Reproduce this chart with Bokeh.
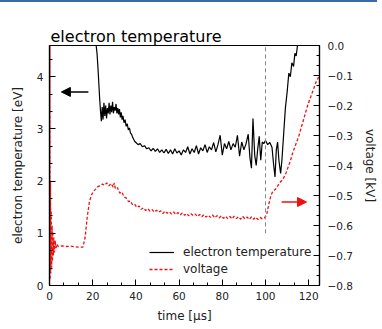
from bokeh.plotting import figure
from bokeh.models import (Range1d, LinearAxis, FixedTicker, CustomJSTickFormatter,
                          Arrow, NormalHead, Legend, LegendItem, Div)
from bokeh.layouts import column
from bokeh.embed import file_html
from bokeh.resources import INLINE

# electron temperature [eV] vs time [us]
te_time = [21.6, 22.0, 22.4, 22.8, 23.2, 23.6, 24.0, 24.4, 24.8, 25.2, 25.6, 26.0, 26.4, 26.8,
           27.2, 27.6, 28.0, 28.4, 28.8, 29.2, 29.6, 30.0, 30.4, 30.8, 31.2, 31.6, 32.0, 32.4,
           32.8, 33.2, 33.6, 34.0, 34.5, 35.0, 35.5, 36.0, 36.5, 37.0, 37.5, 38.0, 38.5, 39.0,
           39.5, 40.0, 41, 42, 43, 44, 45, 46, 47, 48, 49, 50, 51, 52, 53, 54, 55, 56, 57, 58,
           59, 60, 61, 62, 63, 64, 65, 66, 67, 68, 69, 70, 71, 72, 73, 74, 75, 76, 77, 78, 79,
           80, 81, 82, 83, 84, 85, 86, 87, 88, 89, 90, 91, 92, 92.8, 93.5, 94.2, 95.0, 95.7,
           96.4, 97.1, 97.8, 98.5, 99.2, 100, 101, 102, 103, 103.8, 104.4, 105.0, 105.6, 106.2,
           107.0, 107.6, 108.4, 109.2, 110.0, 110.8, 111.5, 112.2, 113.0, 113.6, 114.2, 114.8]
te_value = [4.6, 4.45, 4.2, 3.9, 3.6, 3.35, 3.15, 3.42, 3.18, 3.5, 3.25, 3.45, 3.2, 3.4,
            3.3, 3.5, 3.28, 3.45, 3.32, 3.52, 3.3, 3.42, 3.35, 3.48, 3.3, 3.4, 3.28, 3.38,
            3.22, 3.32, 3.18, 3.25, 3.12, 3.18, 3.05, 3.1, 2.98, 3.02, 2.92, 2.9, 2.84, 2.8,
            2.76, 2.74, 2.7, 2.72, 2.66, 2.68, 2.62, 2.64, 2.58, 2.63, 2.57, 2.62, 2.55, 2.6,
            2.54, 2.61, 2.53, 2.6, 2.52, 2.62, 2.54, 2.58, 2.5, 2.6, 2.55, 2.66, 2.52, 2.62,
            2.55, 2.68, 2.52, 2.64, 2.58, 2.7, 2.55, 2.66, 2.6, 2.74, 2.56, 2.7, 2.88, 2.5,
            2.72, 2.62, 2.76, 2.6, 2.72, 2.65, 2.88, 2.48, 2.75, 2.6, 2.72, 2.9, 2.45, 2.25,
            3.2, 2.5, 2.3, 2.62, 2.86, 2.4, 2.75, 2.72, 2.78, 2.7, 2.74, 2.65, 2.3, 2.08, 2.6,
            2.75, 2.4, 2.15, 2.4, 2.9, 3.4, 3.7, 4.07, 4.0, 4.27, 4.2, 4.45, 4.4, 4.6]

# voltage [kV] vs time [us]
v_time = [0.0, 0.15, 0.3, 0.45, 0.6, 0.8, 1.0, 1.2, 1.4, 1.6, 1.8, 2.0, 2.3, 2.6, 3.0, 3.5,
          4.0, 6, 8, 10, 12, 14, 15.5, 16.5, 17.5, 18.5, 19.5, 20.5, 21.5, 22.5, 23.5, 24.5,
          25.5, 26.5, 27.5, 28.5, 29.5, 30, 30.5, 31.5, 32.5, 33.5, 34.5, 35.5, 36.5, 37.5,
          38.5, 39.5, 40.5, 41.5, 42.5, 43.5, 44.5, 45.5, 46.5, 47.5, 48.5, 49.5, 50.5, 51.5,
          52.5, 53.5, 54.5, 55.5, 56.5, 57.5, 58.5, 59.5, 60.5, 61.5, 62.5, 63.5, 64.5, 65.5,
          66.5, 67.5, 68.5, 69.5, 70.5, 71.5, 72.5, 73.5, 74.5, 75.5, 76.5, 77.5, 78.5, 79.5,
          80.5, 81.5, 82.5, 83.5, 84.5, 85.5, 86.5, 87.5, 88.5, 89.5, 90.5, 91.5, 92.5, 93.5,
          94.5, 95.5, 96.5, 97.5, 98.5, 99.5, 100.5, 101.5, 102.5,
          103.5, 104.5, 105.5, 106.5, 107.5, 108.5, 109.5, 110.5, 111.5, 112.5, 113.5, 114.5,
          115.5, 116.5, 117.5, 118.5, 119.5, 120.5, 121.5, 122.5, 123.5, 125]
v_value = [-0.80, 0.0, -0.78, -0.45, -0.76, -0.55, -0.74, -0.60, -0.72, -0.62, -0.70, -0.64,
           -0.69, -0.65, -0.675, -0.662, -0.67, -0.668, -0.67, -0.669, -0.671, -0.672, -0.672,
           -0.64, -0.57, -0.52, -0.497, -0.485, -0.478, -0.47, -0.468, -0.462, -0.466, -0.458,
           -0.468, -0.46, -0.472, -0.458, -0.478, -0.474, -0.492, -0.488, -0.505, -0.508, -0.52,
           -0.518, -0.532, -0.53,
           -0.540, -0.535, -0.546, -0.541, -0.550, -0.544, -0.552, -0.547, -0.555, -0.549,
           -0.556, -0.551, -0.560, -0.552, -0.559, -0.554, -0.562, -0.555, -0.563, -0.557,
           -0.565, -0.558, -0.566, -0.560, -0.568, -0.561, -0.567, -0.562, -0.570, -0.563,
           -0.571, -0.564, -0.572, -0.566, -0.573, -0.565, -0.574, -0.567, -0.575, -0.568,
           -0.576, -0.569, -0.577, -0.570, -0.578, -0.569, -0.577, -0.571, -0.579, -0.570,
           -0.578, -0.572, -0.580, -0.571, -0.579, -0.572, -0.580, -0.573, -0.578, -0.575,
           -0.565, -0.53, -0.50, -0.485, -0.48, -0.47, -0.458, -0.45, -0.44, -0.425,
           -0.405, -0.385, -0.36, -0.34, -0.32, -0.30, -0.275, -0.25, -0.225, -0.20, -0.18,
           -0.16, -0.14, -0.12, -0.10]

x_ticks = [0, 20, 40, 60, 80, 100, 120]
te_ticks = [0, 1, 2, 3, 4]
v_ticks = [-0.8, -0.7, -0.6, -0.5, -0.4, -0.3, -0.2, -0.1, 0.0]

FONT = "DejaVu Sans"

p = figure(width=382, height=327, output_backend="svg", toolbar_location=None,
           x_range=Range1d(0, 125), y_range=Range1d(0, 4.6),
           min_border_left=49, min_border_right=63, min_border_top=43, min_border_bottom=44)
p.extra_y_ranges = {"v": Range1d(-0.8, 0.0)}
p.grid.visible = False
p.outline_line_color = "black"
p.outline_line_width = 1.2
p.background_fill_color = "white"
p.border_fill_color = "white"
p.margin = 0

p.title.text = "electron temperature"
p.title.align = "left"
p.title.text_font = FONT
p.title.text_font_size = "16px"
p.title.text_font_style = "normal"
p.title.text_color = "black"
p.title.offset = 1
p.title.standoff = 0

def style_axis(ax):
    ax.axis_line_color = "black"
    ax.axis_line_width = 1.2
    ax.major_tick_in = 6
    ax.major_tick_out = 0
    ax.minor_tick_in = 3
    ax.minor_tick_out = 0
    ax.major_tick_line_color = "black"
    ax.minor_tick_line_color = "black"
    ax.major_label_text_font = FONT
    ax.major_label_text_font_size = "10.5px"
    ax.major_label_text_color = "#222222"
    ax.axis_label_text_font = FONT
    ax.axis_label_text_font_size = "12px"
    ax.axis_label_text_font_style = "normal"
    ax.axis_label_text_color = "#222222"

xa = p.xaxis[0]
style_axis(xa)
xa.ticker = FixedTicker(ticks=x_ticks, minor_ticks=[i * 20 / 3 for i in range(19)])
xa.axis_label = "time [µs]"
xa.major_label_standoff = 6
xa.axis_label_standoff = 6

ya = p.yaxis[0]
style_axis(ya)
ya.ticker = FixedTicker(ticks=te_ticks, minor_ticks=[i / 3 for i in range(14)])
ya.axis_label = "electron temperature [eV]"
ya.major_label_standoff = 6
ya.axis_label_standoff = 9

ra = LinearAxis(y_range_name="v")
style_axis(ra)
ra.ticker = FixedTicker(ticks=v_ticks, minor_ticks=[-0.8 + i * 0.1 / 3 for i in range(25)])
ra.formatter = CustomJSTickFormatter(code="""
    const a = Math.abs(tick).toFixed(1);
    return (tick < -1e-9 ? "\u2212" : "") + a;
""")
ra.axis_label = "voltage [kV]"
ra.major_label_standoff = 8
ra.axis_label_standoff = 7
p.add_layout(ra, "right")

r_te = p.line(te_time, te_value, line_color="black", line_width=1.2)
r_v = p.line(v_time, v_value, line_color="#ee1111", line_width=1.3, line_dash="3 2",
             y_range_name="v")

p.segment(x0=[100], y0=[1.0], x1=[100], y1=[4.6], line_color="#888888", line_width=1,
          line_dash="4 3")

p.add_layout(Arrow(end=NormalHead(size=9, fill_color="black", line_color="black"),
                   x_start=18, y_start=3.71, x_end=5.5, y_end=3.71,
                   line_color="black", line_width=1.5))
p.add_layout(Arrow(end=NormalHead(size=9, fill_color="#ee1111", line_color="#ee1111"),
                   x_start=107.5, y_start=1.6, x_end=119, y_end=1.6,
                   line_color="#ee1111", line_width=1.5))

legend = Legend(items=[LegendItem(label="electron temperature", renderers=[r_te]),
                       LegendItem(label="voltage", renderers=[r_v])],
                location=(100, 9), border_line_color=None, background_fill_alpha=0,
                padding=0, margin=0, spacing=3, glyph_width=25, glyph_height=14,
                label_height=14, label_standoff=9, label_text_font=FONT,
                label_text_font_size="12px", label_text_color="#222222")
p.add_layout(legend)

bar = Div(text="", width=377, height=2, margin=0,
          styles={"background-color": "#3b6aa8"})
layout = column(bar, p, spacing=0, margin=0)

open("out.html", "w").write(file_html(layout, INLINE))
